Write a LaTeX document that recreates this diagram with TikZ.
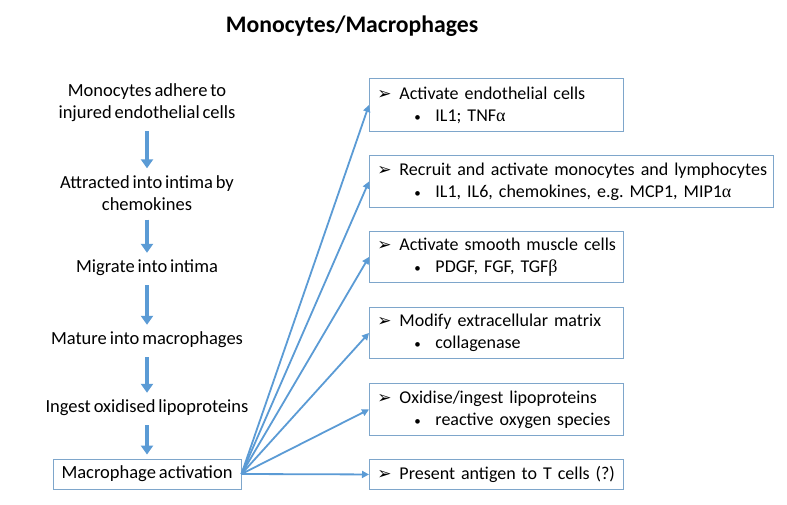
\documentclass[tikz,border=0pt]{standalone}
\usepackage{fontspec}
\setmainfont{Carlito}[WordSpace=0.7]
\newfontfamily\grkfont{Liberation Serif}
\newfontfamily\djvfont{DejaVu Sans}
\usetikzlibrary{arrows.meta}
\definecolor{arrblue}{HTML}{5B9BD5}
\definecolor{boxline}{HTML}{7EA6CB}
\newcommand{\myarr}{\makebox[22pt][l]{\djvfont\fontsize{17}{17}\selectfont ➢}}
\newcommand{\mybul}{\hspace*{37pt}\makebox[21pt][l]{\fontsize{13}{13}\selectfont •}}
\frenchspacing
\begin{document}
\begin{tikzpicture}[x=1pt,y=1pt,
  lefttext/.style={align=center,inner sep=0pt,font=\fontsize{18.5}{22}\selectfont},
  downarrow/.style={arrblue,line width=3.6pt,-{Triangle[width=12pt,length=9pt]},shorten <=9pt,shorten >=7pt},
  fan/.style={arrblue,line width=1.8pt,-{Triangle[width=7pt,length=7pt]}},
  rbox/.style={draw=boxline,line width=0.9pt,anchor=north west,align=left,inner xsep=8pt,inner ysep=0pt,font=\fontsize{18}{22}\selectfont}
]
\useasboundingbox (0,0) rectangle (787,-505);
\fill[white] (0,0) rectangle (787,-505);

\node[font=\bfseries\fontsize{23.7}{26}\selectfont] (title) at (352,-26) {Monocytes/Macrophages};

\node[lefttext] (l1) at (147,-103) {Monocytes adhere to\\injured endothelial cells};
\node[lefttext] (l2) at (147,-193) {Attracted into intima by\\chemokines};
\node[lefttext] (l3) at (147,-268) {Migrate into intima};
\node[lefttext] (l4) at (147,-340) {Mature into macrophages};
\node[lefttext] (l5) at (147,-408) {Ingest oxidised lipoproteins};
\node[draw=boxline,line width=0.9pt,minimum width=188pt,minimum height=30pt,inner sep=0pt,font=\fontsize{18.5}{22}\selectfont] (act) at (147,-474) {Macrophage activation};

\draw[downarrow] (l1) -- (l2);
\draw[downarrow] (l2) -- (l3);
\draw[downarrow] (l3) -- (l4);
\draw[downarrow] (l4) -- (l5);
\draw[downarrow,shorten >=4pt] (l5) -- (act);

\node[rbox,text width=238pt,minimum height=53pt] (r1) at (369,-78)
  {\mbox{\myarr Activate endothelial cells}\\\mbox{\mybul IL1; TNF{\grkfont α}}};
\node[rbox,text width=388pt,minimum height=52pt] (r2) at (369,-155)
  {\mbox{\myarr Recruit and activate monocytes and lymphocytes}\\\mbox{\mybul IL1, IL6, chemokines, e.g. MCP1, MIP1{\grkfont α}}};
\node[rbox,text width=238pt,minimum height=51pt] (r3) at (369,-231)
  {\mbox{\myarr Activate smooth muscle cells}\\\mbox{\mybul PDGF, FGF, TGF{\grkfont β}}};
\node[rbox,text width=238pt,minimum height=51pt] (r4) at (369,-307)
  {\mbox{\myarr Modify extracellular matrix}\\\mbox{\mybul collagenase}};
\node[rbox,text width=238pt,minimum height=52pt] (r5) at (369,-383)
  {\mbox{\myarr Oxidise/ingest lipoproteins}\\\mbox{\mybul reactive oxygen species}};
\node[rbox,text width=238pt,minimum height=30pt] (r6) at (369,-459)
  {\mbox{\myarr Present antigen to T cells (?)}};

\foreach \r in {r1,r2,r3,r4,r5,r6}
  \draw[fan] (act.east) -- (\r.west);
\end{tikzpicture}
\end{document}
